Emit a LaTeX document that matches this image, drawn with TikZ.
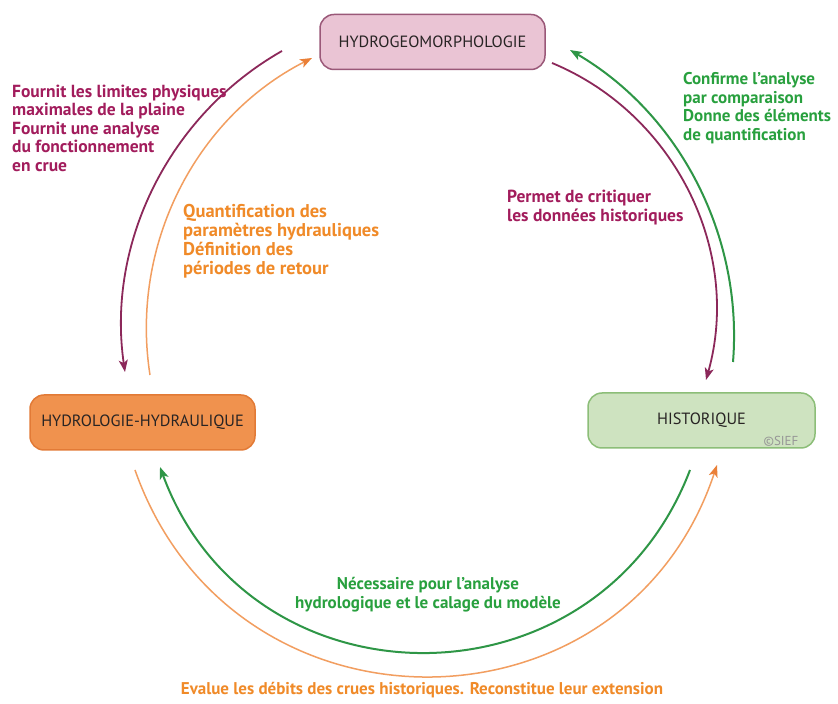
\documentclass[tikz,border=0pt]{standalone}
\usepackage{fontspec}
\setmainfont{PT Sans}
\usetikzlibrary{arrows.meta}
\definecolor{mauveline}{RGB}{140,40,90}
\definecolor{mauvetext}{RGB}{162,28,92}
\definecolor{orangeline}{RGB}{242,158,96}
\definecolor{orangetip}{RGB}{234,128,56}
\definecolor{orangetext}{RGB}{240,138,40}
\definecolor{greenline}{RGB}{46,150,70}
\definecolor{greentext}{RGB}{40,160,62}
\definecolor{hgfill}{RGB}{234,196,212}
\definecolor{hgdraw}{RGB}{154,88,120}
\definecolor{hhfill}{RGB}{240,146,78}
\definecolor{hhdraw}{RGB}{226,122,54}
\definecolor{hifill}{RGB}{206,227,192}
\definecolor{hidraw}{RGB}{140,190,120}
\definecolor{boxtext}{RGB}{40,36,36}
\begin{document}
\begin{tikzpicture}[x=1pt,y=1pt,
  box/.style={rounded corners=14pt, minimum width=225pt, minimum height=55pt,
    line width=1.5pt, inner sep=0pt, text=boxtext, font=\fontsize{16.3}{19}\selectfont},
  lbl/.style={inner sep=0pt, align=left},
  mauvearrow/.style={draw=mauveline, line width=1.8pt, -{Stealth[length=12pt,width=9pt,inset=3pt]}},
  orangearrow/.style={draw=orangeline, line width=1.5pt, -{Stealth[length=12pt,width=9pt,inset=3pt,fill=orangetip,color=orangetip]}},
  greenarrow/.style={draw=greenline, line width=2pt, -{Stealth[length=12pt,width=9pt,inset=3pt]}}
]
\useasboundingbox (0,0) rectangle (838,704);
\fill[white] (0,0) rectangle (838,704);

% boxes
\node[box, fill=hgfill, draw=hgdraw] (hg) at (432.5,662) {HYDROGEOMORPHOLOGIE};
\node[box, fill=hhfill, draw=hhdraw] (hh) at (142.5,281.5) {HYDROLOGIE-HYDRAULIQUE};
\node[box, fill=hifill, draw=hidraw, minimum width=227pt] (hi) at (701.5,283.5) {HISTORIQUE};
\node[inner sep=0pt, text={rgb,255:red,150;green,150;blue,150}, font=\fontsize{13}{15}\selectfont] (sief) at (781,263) {©SIEF};

% arc end points
\coordinate (m1s) at (282,653);
\coordinate (m1e) at (125,332);
\coordinate (o1s) at (150,329);
\coordinate (o1e) at (312,646);
\coordinate (m2s) at (552,641);
\coordinate (m2e) at (706,324);
\coordinate (g1s) at (733,342);
\coordinate (g1e) at (570,654);
\coordinate (g2s) at (690,234);
\coordinate (g2e) at (160,237);
\coordinate (o2s) at (135,234);
\coordinate (o2e) at (717,239);

% connectors
\draw[mauvearrow] (m1s) to[out=209.6, in=98.3, looseness=0.93] (m1e);
\draw[orangearrow] (o1s) to[out=98.9, in=207, looseness=0.94] (o1e);
\draw[mauvearrow] (m2s) to[out=-22.5, in=74.3, looseness=0.97] (m2e);
\draw[greenarrow] (g1s) to[out=85.4, in=-30.3, looseness=0.92] (g1e);
\draw[greenarrow] (g2s) to[out=-110.9, in=-69.8, looseness=1.26] (g2e);
\draw[orangearrow] (o2s) to[out=-70.6, in=-108.4, looseness=1.29] (o2e);

% labels
\node[lbl, text=mauvetext, anchor=north west, font=\bfseries\fontsize{17.5}{18.5}\selectfont] (t1) at (12,619.5)
  {Fournit les limites physiques\\maximales de la plaine\\Fournit une analyse\\du fonctionnement\\en crue};
\node[lbl, text=orangetext, anchor=north west, font=\bfseries\fontsize{18.5}{19}\selectfont] (t2) at (183,500)
  {Quantification des\\paramètres hydrauliques\\Définition des\\périodes de retour};
\node[lbl, text=mauvetext, anchor=north west, font=\bfseries\fontsize{17.5}{19}\selectfont] (t3) at (507,514.5)
  {Permet de critiquer\\les données historiques};
\node[lbl, text=greentext, anchor=north west, font=\bfseries\fontsize{17}{18.7}\selectfont] (t4) at (683,632)
  {Confirme l'analyse\\par comparaison\\Donne des éléments\\de quantification};
\node[lbl, text=greentext, align=center, font=\bfseries\fontsize{17}{19}\selectfont] (t5) at (428,109)
  {Nécessaire pour l'analyse\\hydrologique et le calage du modèle};
\node[lbl, text=orangetext, font=\bfseries\fontsize{17}{19}\selectfont] (t6) at (422,14)
  {Evalue les débits des crues historiques. Reconstitue leur extension};
\end{tikzpicture}
\end{document}
